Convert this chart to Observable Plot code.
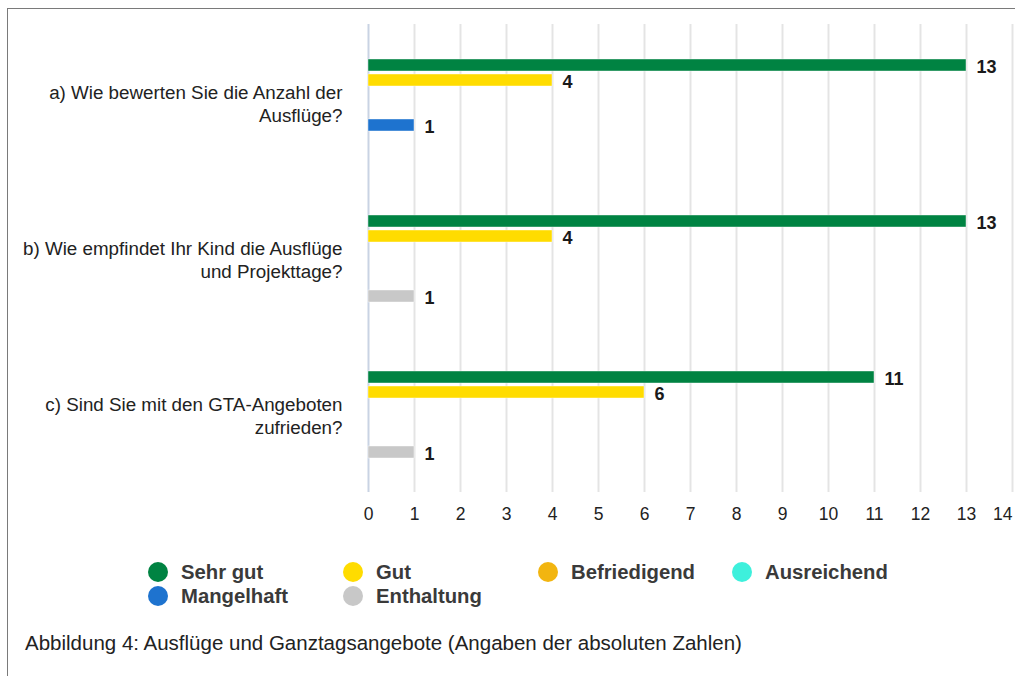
<!DOCTYPE html>
<html>
<head>
<meta charset="utf-8">
<script src="https://cdn.jsdelivr.net/npm/d3@7"></script>
<script src="https://cdn.jsdelivr.net/npm/@observablehq/plot@0.6"></script>
<style>
  body { margin: 0; background: #fff; }
  #wrap { position: relative; width: 1015px; height: 676px; overflow: hidden; font-family: "Liberation Sans", Arial, sans-serif; }
  #frame { position: absolute; left: 7px; top: 8px; width: 1100px; height: 800px; border-left: 1.5px solid #7a7a7a; border-top: 1.5px solid #7a7a7a; }
  #chart { position: absolute; left: 0; top: 0; }
  .leg { position: absolute; display: flex; align-items: center; font-weight: bold; font-size: 20.3px; color: #3a3a3a; white-space: nowrap; }
  .dot { width: 20px; height: 20px; border-radius: 50%; margin-right: 13px; }
  #caption { position: absolute; left: 25px; top: 631px; font-size: 20.5px; color: #222; white-space: nowrap; }
</style>
</head>
<body>
<div id="wrap">
  <div id="frame"></div>
  <div id="chart"></div>
  <div id="legend"></div>
  <div id="caption">Abbildung 4: Ausflüge und Ganztagsangebote (Angaben der absoluten Zahlen)</div>
</div>
<script>
const questions = [
  "a) Wie bewerten Sie die Anzahl der Ausflüge?",
  "b) Wie empfindet Ihr Kind die Ausflüge und Projekttage?",
  "c) Sind Sie mit den GTA-Angeboten zufrieden?"
];
const questionLabels = [
  "a) Wie bewerten Sie die Anzahl der\nAusflüge?",
  "b) Wie empfindet Ihr Kind die Ausflüge\nund Projekttage?",
  "c) Sind Sie mit den GTA-Angeboten\nzufrieden?"
];
const series = ["Sehr gut", "Gut", "Befriedigend", "Ausreichend", "Mangelhaft", "Enthaltung"];
const colors = ["#008342", "#ffdc00", "#f2b510", "#3ef0dc", "#1e73cf", "#c8c8c8"];
const valuesA = [13, 4, 0, 0, 1, 0];
const valuesB = [13, 4, 0, 0, 0, 1];
const valuesC = [11, 6, 0, 0, 0, 1];
const xTicks = [0, 1, 2, 3, 4, 5, 6, 7, 8, 9, 10, 11, 12, 13, 14];

const allValues = [valuesA, valuesB, valuesC];
const rows = questions.flatMap((q, i) => series.map((s, j) => ({question: q, series: s, value: allValues[i][j]})))
  .filter(d => d.value > 0);

const chart = Plot.plot({
  width: 1015,
  height: 540,
  marginTop: 24,
  marginBottom: 48,
  marginLeft: 368,
  marginRight: 3,
  style: {fontFamily: "Liberation Sans, Arial, sans-serif", fontSize: "18px", color: "#222", background: "transparent"},
  x: {domain: [0, 14], axis: null},
  y: {domain: series, axis: null, paddingInner: 0.22, paddingOuter: 2.1},
  fy: {domain: questions, axis: null, padding: 0},
  color: {domain: series, range: colors},
  marks: [
    Plot.gridX(xTicks.slice(1), {stroke: "#e4e4e4", strokeOpacity: 1, strokeWidth: 2}),
    Plot.ruleX([0], {stroke: "#c9d3e3", strokeWidth: 2}),
    Plot.barX(rows, {x: "value", y: "series", fy: "question", fill: "series", stroke: "#ffffff", strokeWidth: 0.6, strokeOpacity: 0.7}),
    Plot.text(rows, {x: "value", y: "series", fy: "question", text: d => String(d.value), textAnchor: "start", dx: 10, dy: 1.5, fontWeight: "bold", fontSize: 18, fill: "#1a1a1a"}),
    Plot.text(questions, {fy: d => d, text: (d, i) => questionLabels[i], frameAnchor: "left", textAnchor: "end", dx: -26, dy: 1, lineHeight: 1.2, fontSize: 18.8, fill: "#222"}),
    Plot.text(xTicks.slice(0, 14).map(v => ({v, q: questions[2]})), {x: "v", fy: "q", text: d => String(d.v), frameAnchor: "bottom", textAnchor: "middle", dy: 27, fontSize: 17.5, fill: "#222"}),
    Plot.text([{v: xTicks[14], q: questions[2]}], {x: "v", fy: "q", text: d => String(d.v), frameAnchor: "bottom", textAnchor: "end", dy: 27, fontSize: 17.5, fill: "#222"})
  ]
});
document.getElementById("chart").appendChild(chart);

const legendPos = [
  [158, 572], [353, 572], [548, 572], [742, 572],
  [158, 596], [353, 596]
];
const legend = document.getElementById("legend");
series.forEach((s, i) => {
  const el = document.createElement("div");
  el.className = "leg";
  el.style.left = (legendPos[i][0] - 10) + "px";
  el.style.top = (legendPos[i][1] - 12) + "px";
  el.style.height = "24px";
  const dot = document.createElement("div");
  dot.className = "dot";
  dot.style.background = colors[i];
  el.appendChild(dot);
  const t = document.createElement("span");
  t.textContent = s;
  el.appendChild(t);
  legend.appendChild(el);
});
</script>
</body>
</html>
